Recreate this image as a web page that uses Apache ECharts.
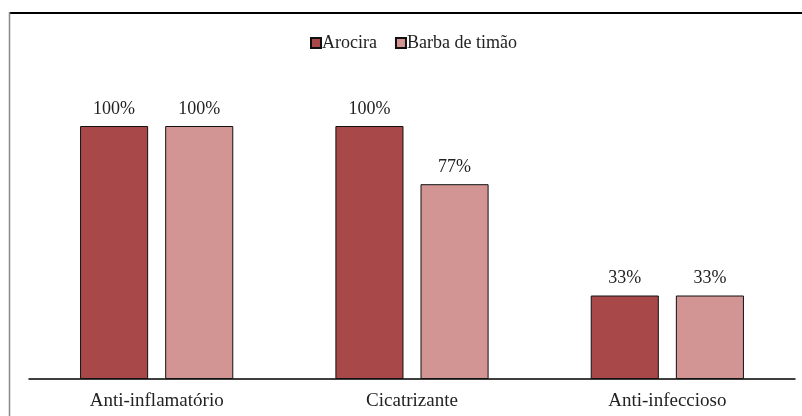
<!DOCTYPE html>
<html>
<head>
<meta charset="utf-8">
<script src="https://cdn.jsdelivr.net/npm/echarts@6/dist/echarts.min.js"></script>
<style>
    html, body { margin: 0; padding: 0; background: #fff; }
    #chart { width: 802px; height: 416px; }
</style>
</head>
<body>
<div id="chart"></div>
<script>
var categories = ['Anti-inflamatório', 'Cicatrizante', 'Anti-infeccioso'];
var seriesNames = ['Arocira', 'Barba de timão'];
var arociraValues = [100, 100, 33];
var barbaValues = [100, 77, 33];

var chart = echarts.init(document.getElementById('chart'));
var fontFamily = "'Liberation Serif', 'Times New Roman', serif";

var labelStyle = {
    show: true,
    position: 'top',
    distance: 8,
    formatter: '{c}%',
    fontFamily: fontFamily,
    fontSize: 18,
    color: '#222'
};

var option = {
    backgroundColor: '#fff',
    animation: false,
    color: ['#a84848', '#d39494'],
    legend: {
        data: seriesNames,
        left: 305,
        top: 29,
        itemWidth: 10,
        itemHeight: 10,
        itemGap: 18,
        icon: 'rect',
        textStyle: {
            fontFamily: fontFamily,
            fontSize: 18,
            color: '#222',
            padding: [0, 0, 0, -4]
        }
    },
    grid: {
        left: 29,
        right: 7,
        top: 126,
        bottom: 37
    },
    xAxis: {
        type: 'category',
        data: categories,
        axisLine: {
            lineStyle: { color: '#000', width: 1.5 }
        },
        axisTick: { show: false },
        axisLabel: {
            fontFamily: fontFamily,
            fontSize: 19,
            color: '#222',
            margin: 13
        }
    },
    yAxis: {
        type: 'value',
        min: 0,
        max: 100,
        show: false,
        splitLine: { show: false }
    },
    graphic: [
        {
            type: 'line',
            shape: { x1: 9, y1: 13, x2: 802, y2: 13 },
            style: { stroke: '#000', lineWidth: 2 }
        },
        {
            type: 'line',
            shape: { x1: 9.5, y1: 12, x2: 9.5, y2: 416 },
            style: { stroke: '#888', lineWidth: 1.5 }
        }
    ],
    series: [
        {
            name: seriesNames[0],
            type: 'bar',
            barGap: '25%',
            barCategoryGap: '40%',
            data: arociraValues,
            itemStyle: { borderColor: '#111', borderWidth: 1 },
            label: labelStyle
        },
        {
            name: seriesNames[1],
            type: 'bar',
            data: barbaValues,
            itemStyle: { borderColor: '#111', borderWidth: 1 },
            label: labelStyle
        }
    ]
};

chart.setOption(option);
</script>
</body>
</html>
